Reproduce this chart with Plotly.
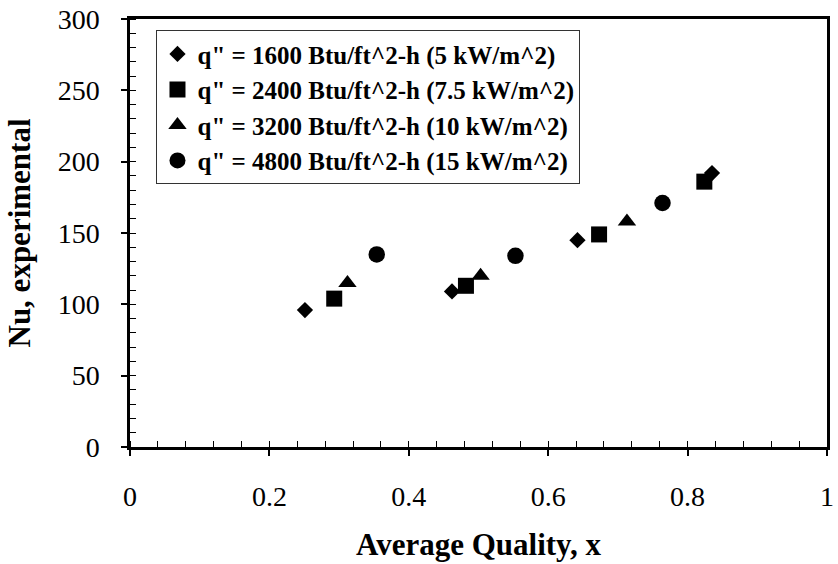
import plotly.graph_objects as go

# Average quality and experimental Nusselt number for each heat flux
x_5kw = [0.251, 0.462, 0.642, 0.835]
nu_5kw = [96, 109, 145, 192]

x_75kw = [0.293, 0.482, 0.673, 0.824]
nu_75kw = [104, 113, 149, 186]

x_10kw = [0.312, 0.503, 0.713]
nu_10kw = [115, 120, 158]

x_15kw = [0.354, 0.553, 0.764]
nu_15kw = [135, 134, 171]

series_names = [
    'q" = 1600 Btu/ft^2-h (5 kW/m^2)',
    'q" = 2400 Btu/ft^2-h (7.5 kW/m^2)',
    'q" = 3200 Btu/ft^2-h (10 kW/m^2)',
    'q" = 4800 Btu/ft^2-h (15 kW/m^2)',
]

x_ticks = [0, 0.2, 0.4, 0.6, 0.8, 1]
x_tick_labels = ["0", "0.2", "0.4", "0.6", "0.8", "1"]
y_ticks = [0, 50, 100, 150, 200, 250, 300]

FONT = "Liberation Serif"

fig = go.Figure()
for xs, ys, name, sym, size in [
    (x_5kw, nu_5kw, series_names[0], "diamond", 12.5),
    (x_75kw, nu_75kw, series_names[1], "square", 16),
    (x_10kw, nu_10kw, series_names[2], "triangle-up", 16),
    (x_15kw, nu_15kw, series_names[3], "circle", 16.5),
]:
    fig.add_trace(go.Scatter(
        x=xs, y=ys, mode="markers", name=name,
        marker=dict(symbol=sym, size=size, color="black", line=dict(width=0)),
    ))

axis_common = dict(
    showgrid=False, zeroline=False, showline=True, linecolor="black",
    linewidth=2.5, mirror=True, ticks="outside", ticklen=6, tickwidth=1.5,
    tickcolor="black", tickfont=dict(family=FONT, size=28, color="black"),
)

fig.update_xaxes(
    range=[0, 1], tickvals=x_ticks, ticktext=x_tick_labels,
    ticklabelstandoff=17,
    minor=dict(dtick=0.04, ticks="inside", ticklen=6, tickwidth=1, tickcolor="black"),
    title=dict(text="<b>Average Quality, x</b>", font=dict(family=FONT, size=31, color="black"),
               standoff=22),
    **axis_common,
)
fig.update_yaxes(
    range=[0, 300], tickvals=y_ticks,
    ticklabelstandoff=16,
    minor=dict(dtick=10, ticks="inside", ticklen=6, tickwidth=1, tickcolor="black"),
    title=dict(text="<b>Nu, experimental</b>", font=dict(family=FONT, size=31, color="black"),
               standoff=18),
    **axis_common,
)

fig.update_layout(
    width=838, height=564,
    margin=dict(l=130, r=4, t=19, b=117),
    paper_bgcolor="white", plot_bgcolor="white",
    showlegend=True,
    legend=dict(
        x=0.038, y=0.974, xanchor="left", yanchor="top",
        bgcolor="white", bordercolor="#333", borderwidth=1,
        font=dict(family=FONT, size=25, color="black", weight="bold"),
        itemwidth=30, tracegroupgap=0,
    ),
)

fig.write_html("out.html")
